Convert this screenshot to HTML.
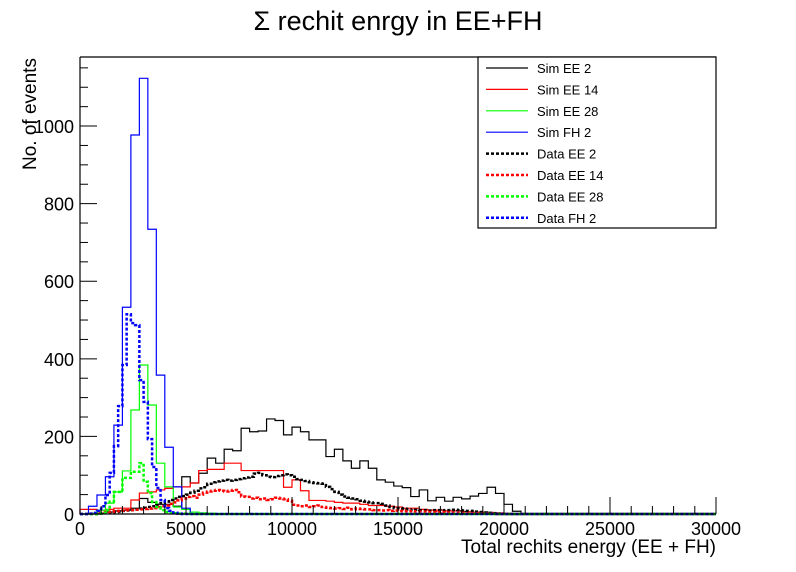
<!DOCTYPE html>
<html><head><meta charset="utf-8"><style>
body{margin:0;background:#fff}
svg{display:block;font-family:"Liberation Sans",sans-serif}
</style></head><body>
<svg id="c" width="796" height="572">
<text x="398" y="30" font-size="27" text-anchor="middle">Σ rechit enrgy in EE+FH</text>
<text transform="translate(36,170) rotate(-90)" font-size="19">No. of events</text>
<text x="716" y="553" font-size="19" text-anchor="end">Total rechits energy (EE + FH)</text>
<g id="plot"></g>
<g id="legend"></g>
</svg>
<script>
const simBin=400, dataBin=200;
const simEE2=[0,0,2,5,8,10,15,40,30,25,25,20,96,80,105,144,131,167,163,221,212,214,245,241,204,224,212,191,191,148,167,137,118,137,118,88,82,72,68,45,62,34,43,33,43,39,46,53,69,53,25,7,0];
const simEE14=[12,12,10,12,15,15,36,54,57,62,66,70,70,80,112,115,115,131,131,112,112,112,112,112,69,88,60,35,35,33,30,28,28,25,22,22,20,18,15,15,12,10,10,8,8,6,5,5,4,3,2,1,0];
const simEE28=[0,2,10,28,57,111,268,384,281,131,70,18,12,5,3,2,1,1,0];
const simFH2=[0,20,49,96,229,533,977,1123,734,358,172,70,15,0];
const dataEE2=[0,0,0,0,1,2,3,4,5,6,8,9,10,12,14,16,18,20,24,28,32,36,40,44,46,50,55,60,66,69,78,82,84,86,88,86,88,90,92,94,96,104,106,100,96,95,98,100,102,100,96,90,88,85,82,80,79,78,70,64,57,50,45,42,40,38,34,32,30,28,28,26,22,18,15,15,14,12,10,11,10,10,9,10,10,9,10,10,11,10,9,8,8,6,5,4,3,2,1,0,0];
const dataEE14=[0,0,1,2,3,4,5,6,7,8,9,10,10,11,12,13,14,15,18,20,22,26,30,35,40,44,46,42,50,55,58,60,62,60,58,60,62,56,45,44,40,42,38,40,36,38,42,40,38,34,24,22,20,22,18,20,22,18,16,15,14,15,13,16,12,14,13,12,12,10,10,9,10,8,9,8,7,8,7,6,6,6,5,5,4,5,4,3,3,3,3,2,2,2,2,1,1,1,0,0];
const dataEE28=[0,0,0,0,1,3,10,32,57,57,93,93,109,109,131,83,54,31,18,10,5,3,2,1,1,1,0];
const dataFH2=[0,0,1,3,8,20,49,106,175,278,384,515,492,487,345,289,193,121,67,36,15,8,3,1,0];
const xTicks=[0,5000,10000,15000,20000,25000,30000];
const yTicks=[0,200,400,600,800,1000];
const X0=80,X1=716,Y0=514,Y1=57,XMAX=30000,YMAX=1178;
const xs=v=>X0+(v/XMAX)*(X1-X0);
const ys=v=>Y0-(v/YMAX)*(Y0-Y1);
const NS="http://www.w3.org/2000/svg";
const plot=document.getElementById('plot');
function mk(t,a,p){const e=document.createElementNS(NS,t);for(const k in a)e.setAttribute(k,a[k]);(p||plot).appendChild(e);return e;}
function stepPath(vals,bw){let d="M"+xs(0)+","+ys(0);vals.forEach((v,i)=>{d+=" L"+xs(i*bw)+","+ys(v)+" L"+xs((i+1)*bw)+","+ys(v);});d+=" L"+xs(vals.length*bw)+","+ys(0)+" L"+xs(XMAX)+","+ys(0);return d;}
const series=[
 {n:'sim-ee2',v:simEE2,b:simBin,c:'#000',dash:false,l:'Sim EE 2'},
 {n:'sim-ee14',v:simEE14,b:simBin,c:'#f00',dash:false,l:'Sim EE 14'},
 {n:'sim-ee28',v:simEE28,b:simBin,c:'#0f0',dash:false,l:'Sim EE 28'},
 {n:'sim-fh2',v:simFH2,b:simBin,c:'#00f',dash:false,l:'Sim FH 2'},
 {n:'data-ee2',v:dataEE2,b:dataBin,c:'#000',dash:true,l:'Data EE 2'},
 {n:'data-ee14',v:dataEE14,b:dataBin,c:'#f00',dash:true,l:'Data EE 14'},
 {n:'data-ee28',v:dataEE28,b:dataBin,c:'#0f0',dash:true,l:'Data EE 28'},
 {n:'data-fh2',v:dataFH2,b:dataBin,c:'#00f',dash:true,l:'Data FH 2'}];
series.forEach(s=>{
 const p=mk('path',{d:stepPath(s.v,s.b),fill:'none',stroke:s.c,'stroke-width':s.dash?2.5:1.2,'stroke-dasharray':s.dash?'3,2':'none'});
 
 
});
// axes
const ax=mk('path',{d:`M${X0},${Y1} L${X0},${Y0} L${X1},${Y0} M${X0},${Y1} L${X1},${Y1}`,fill:'none',stroke:'#000','stroke-width':1.2});


for(let v=0;v<=XMAX;v+=1000){const maj=v%5000===0;mk('line',{x1:xs(v),x2:xs(v),y1:Y0,y2:Y0-(maj?17:8),stroke:'#000'});}
xTicks.forEach(v=>{const t=mk('text',{x:xs(v),y:535,'font-size':18,'text-anchor':'middle'});t.textContent=v;
 
 });
for(let v=0;v<=YMAX;v+=50){const maj=v%200===0;mk('line',{x1:X0,x2:X0+(maj?17:8),y1:ys(v),y2:ys(v),stroke:'#000'});}
yTicks.forEach(v=>{const t=mk('text',{x:74,y:ys(v)+7,'font-size':18,'text-anchor':'end'});t.textContent=v;
 
 });
// legend
const lg=document.getElementById('legend');
mk('rect',{x:478,y:57,width:238,height:171,fill:'#fff',stroke:'#000','stroke-width':1.2},lg);
series.forEach((s,i)=>{const y=67+i*21.4;
 const g=mk('g',{},lg);
 
 
 mk('line',{x1:486,x2:528,y1:y+1,y2:y+1,stroke:s.c,'stroke-width':s.dash?2.5:1.2,'stroke-dasharray':s.dash?'3,2':'none'},g);
 const t=mk('text',{x:537,y:y+6,'font-size':13},g);t.textContent=s.l;});
</script>
</body></html>
